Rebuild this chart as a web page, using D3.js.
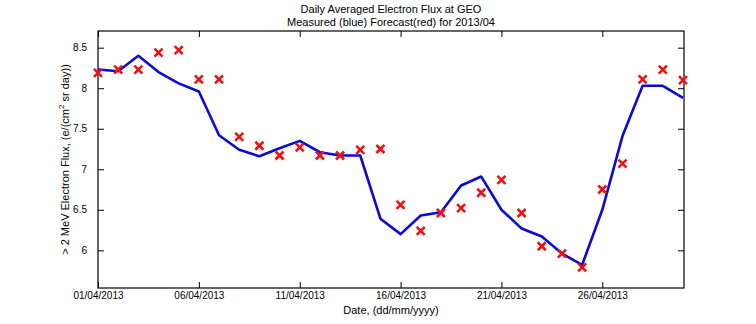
<!DOCTYPE html>
<html>
<head>
<meta charset="utf-8">
<script src="https://cdn.jsdelivr.net/npm/d3@7"></script>
<style>
  body { margin:0; background:#fff; }
  text { font-family: "Liberation Sans", Arial, sans-serif; fill:#000; }
</style>
</head>
<body>
<div id="chart"></div>
<script>
// day of month 1..30, April 2013
const days = d3.range(1, 31);
const measured = [8.23, 8.21, 8.40, 8.20, 8.06, 7.96, 7.42, 7.24, 7.16, 7.26,
                  7.35, 7.21, 7.17, 7.17, 6.39, 6.20, 6.43, 6.47, 6.80, 6.91,
                  6.50, 6.27, 6.17, 5.96, 5.82, 6.50, 7.41, 8.03, 8.03, 7.88];
const forecast = [8.19, 8.23, 8.23, 8.44, 8.47, 8.11, 8.11, 7.40, 7.29, 7.17,
                  7.27, 7.17, 7.17, 7.24, 7.25, 6.56, 6.24, 6.46, 6.52, 6.71,
                  6.87, 6.46, 6.05, 5.96, 5.79, 6.75, 7.07, 8.11, 8.23, 8.10];
const xTicks = [1, 6, 11, 16, 21, 26];
const xTickLabels = ["01/04/2013", "06/04/2013", "11/04/2013", "16/04/2013", "21/04/2013", "26/04/2013"];
const yTicks = [6, 6.5, 7, 7.5, 8, 8.5];

const W = 756, H = 324;
const margin = {top:31, right:72, bottom:36, left:98},
      width = W - margin.left - margin.right,
      height = H - margin.top - margin.bottom;

const svg = d3.select("#chart").append("svg").attr("width", W).attr("height", H);
const g = svg.append("g").attr("transform", `translate(${margin.left},${margin.top})`);

const x = d3.scaleLinear().domain([1, 30.05]).range([0, width]);
const y = d3.scaleLinear().domain([5.535, 8.706]).range([height, 0]);

// axes box with inward ticks (matlab style)
const tl = 6;
g.append("g").attr("transform", `translate(0,${height})`)
  .call(d3.axisBottom(x).tickValues(xTicks).tickSizeInner(-tl).tickSizeOuter(0).tickPadding(4)
    .tickFormat((d, i) => xTickLabels[i]));
g.append("g")
  .call(d3.axisTop(x).tickValues(xTicks).tickSizeInner(-tl).tickSizeOuter(0).tickFormat(""));
g.append("g")
  .call(d3.axisLeft(y).tickValues(yTicks).tickSizeInner(-tl).tickSizeOuter(0).tickPadding(11)
    .tickFormat(d3.format("")));
g.append("g").attr("transform", `translate(${width},0)`)
  .call(d3.axisRight(y).tickValues(yTicks).tickSizeInner(-tl).tickSizeOuter(0).tickFormat(""));
g.selectAll(".domain").remove();
g.append("rect").attr("width", width).attr("height", height)
  .attr("fill", "none").attr("stroke", "#000").attr("stroke-width", 1.2);
g.selectAll(".tick line").attr("stroke", "#000");
g.selectAll(".tick text").style("font-size", "10px").style("font-family", "'Liberation Sans', Arial, sans-serif");

// measured line
const line = d3.line().x((d, i) => x(days[i])).y(d => y(d));
g.append("path").datum(measured).attr("d", line)
  .attr("fill", "none").attr("stroke", "#0a0ad6").attr("stroke-width", 2.6)
  .attr("stroke-linejoin", "round");

// forecast crosses
const s = 4;
g.selectAll(".fc").data(forecast).join("path").attr("class", "fc")
  .attr("transform", (d, i) => `translate(${x(days[i])},${y(d)})`)
  .attr("d", `M${-s},${-s}L${s},${s}M${-s},${s}L${s},${-s}`)
  .attr("stroke", "#f01010").attr("stroke-width", 2.6).attr("fill", "none");

// titles and labels
const cx = margin.left + width / 2;
svg.append("text").attr("x", cx).attr("y", 13).attr("text-anchor", "middle")
  .style("font-size", "11px").text("Daily Averaged Electron Flux at GEO");
svg.append("text").attr("x", cx).attr("y", 26).attr("text-anchor", "middle")
  .style("font-size", "11px").text("Measured (blue) Forecast(red) for 2013/04");
svg.append("text").attr("x", cx).attr("y", 314).attr("text-anchor", "middle")
  .style("font-size", "11px").text("Date, (dd/mm/yyyy)");

const yl = svg.append("text").attr("transform", `translate(69,${margin.top + height / 2}) rotate(-90)`)
  .attr("text-anchor", "middle").style("font-size", "11px");
yl.append("tspan").text("> 2 MeV Electron Flux, (e/(cm");
yl.append("tspan").attr("dy", -5).style("font-size", "8px").text("2");
yl.append("tspan").attr("dy", 5).text(" sr day))");
</script>
</body>
</html>
